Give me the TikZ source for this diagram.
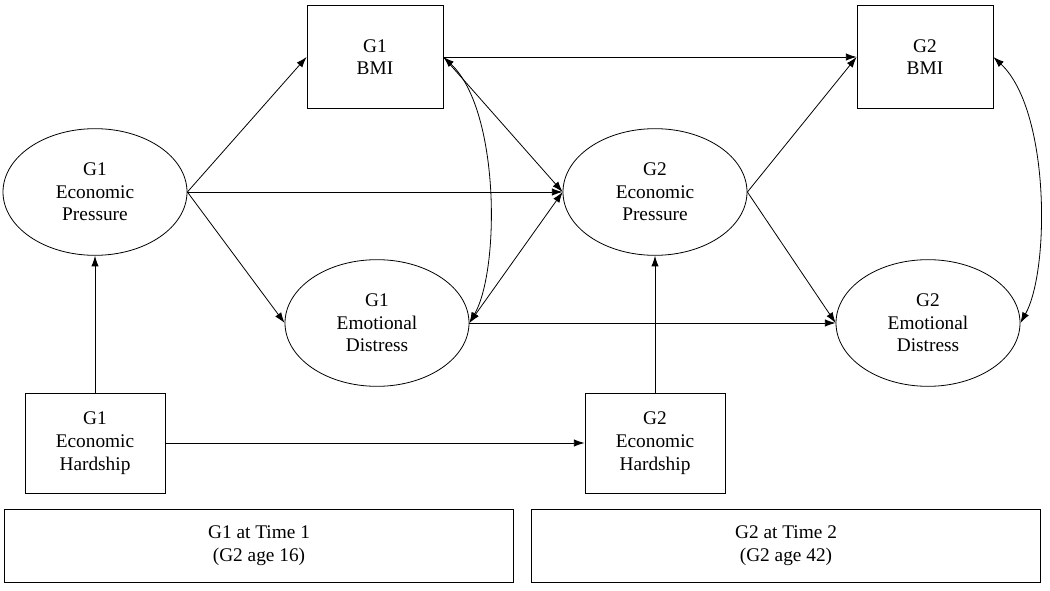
\documentclass[tikz,border=0pt]{standalone}
\usepackage{fontspec}
\setmainfont{Liberation Serif}
\usetikzlibrary{shapes.geometric,arrows.meta}
\begin{document}
\begin{tikzpicture}[x=0.75pt,y=-0.75pt,
  txt/.style={font=\fontsize{14.5}{17}\selectfont,align=center,inner sep=0pt},
  box/.style={txt,draw,minimum width=102pt,minimum height=77pt},
  hbox/.style={txt,draw,minimum width=105pt,minimum height=75pt},
  ell/.style={txt,draw,ellipse,minimum width=138pt,minimum height=95pt},
  tbox/.style={txt,draw,minimum width=382pt,minimum height=55pt},
  arr/.style={-{Latex[length=8pt,width=5.5pt]},line width=0.6pt},
  barr/.style={{Latex[length=8pt,width=5.5pt]}-{Latex[length=8pt,width=5.5pt]},line width=0.6pt},
  every path/.style={line width=0.6pt}]
\useasboundingbox (0,0) rectangle (1050,591);
\node[box] (b1) at (375,57) {G1\\BMI};
\node[box] (b2) at (925,57) {G2\\BMI};
\node[ell] (p1) at (95,192) {G1\\Economic\\Pressure};
\node[ell] (p2) at (655,192) {G2\\Economic\\Pressure};
\node[ell] (d1) at (377,323) {G1\\Emotional\\Distress};
\node[ell] (d2) at (928,323) {G2\\Emotional\\Distress};
\node[hbox] (h1) at (95,443) {G1\\Economic\\Hardship};
\node[hbox] (h2) at (655,443) {G2\\Economic\\Hardship};
\node[tbox] (t1) at (259,546) {G1 at Time 1\\(G2 age 16)};
\node[tbox] (t2) at (786,546) {G2 at Time 2\\(G2 age 42)};
\draw[arr] (p1.east) -- (b1.west);
\draw[arr] (p1.east) -- (p2.west);
\draw[arr] (p1.east) -- (d1.west);
\draw[arr] (h1.north) -- (p1.south);
\draw[arr] (h1.east) -- (h2.west);
\draw[arr] (h2.north) -- (p2.south);
\draw[arr] (b1.east) -- (p2.west);
\draw[arr] (b1.east) -- (b2.west);
\draw[barr] (b1.east) .. controls (500,110) and (500,270) .. (d1.east);
\draw[barr] (d1.east) -- (p2.west);
\draw[arr] (d1.east) -- (d2.west);
\draw[arr] (p2.east) -- (b2.west);
\draw[arr] (p2.east) -- (d2.west);
\draw[barr] (b2.east) .. controls (1050,110) and (1050,270) .. (d2.east);
\end{tikzpicture}
\end{document}
